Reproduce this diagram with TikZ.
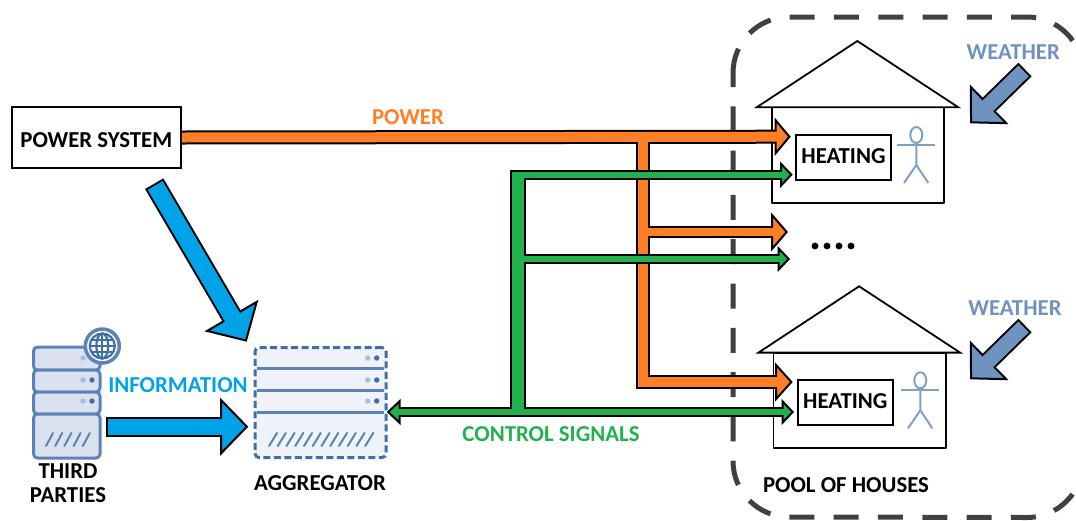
\documentclass[tikz,border=0pt]{standalone}
\usepackage{fontspec}
\setmainfont{Carlito}
\usetikzlibrary{arrows.meta}
\definecolor{powerCol}{HTML}{FF7F27}
\definecolor{ctrlCol}{HTML}{22B14C}
\definecolor{infoCol}{HTML}{00A2E8}
\definecolor{weatherCol}{HTML}{6F93C1}
\definecolor{personCol}{HTML}{7F9FCB}
\definecolor{poolCol}{HTML}{404040}
\definecolor{rackLine}{HTML}{5B83B7}
\definecolor{rackDark}{HTML}{3F6FA8}
\definecolor{rackFill}{HTML}{DAE2EF}
\definecolor{rackPale}{HTML}{EFF2F8}
\definecolor{rackDot}{HTML}{A9BCD9}
\tikzset{
  label/.style={font=\fontsize{22.8}{26}\selectfont\bfseries,inner sep=0pt},
  blackbox/.style={draw=black,line width=2pt,fill=white,inner sep=0pt,label},
  poolline/.style={draw=poolCol,line width=5pt,dash pattern=on 25pt off 19.3pt},
  rackbox/.style={draw=rackLine,fill=rackFill,line width=3pt,rounded corners=4pt},
  slash/.style={line width=2pt,line cap=round}
}
\begin{document}
\begin{tikzpicture}[x=1pt,y=-1pt]
  \clip (0,0) rectangle (1076,520);
  % pool of houses
  \draw[poolline] (733,73) arc[start angle=180,end angle=90,radius=56pt] -- (1027,17)
    arc[start angle=90,end angle=0,radius=56pt] -- (1083,300);
  \draw[poolline,dash phase=11pt] (733,73) -- (733,461) arc[start angle=180,end angle=270,radius=56pt] -- (1027,517.5)
    arc[start angle=270,end angle=360,radius=56pt] -- (1083,300);
  \node[label] (pool) at (846,485) {POOL OF HOUSES};
  % two houses
  \foreach \house/\dx/\dy/\pdx in {A/0/0/0,B/1.8/245.3/2.2} {
    \begin{scope}[shift={(\dx,\dy)}]
      \draw[line width=1.8pt,line join=round] (771.7,107.3) rectangle (944.3,202.7);
      \draw[line width=1.8pt,fill=white,line join=miter] (756.7,107.3) -- (857.3,41) -- (958.3,107.3) -- cycle;
      \node[blackbox,minimum width=95pt,minimum height=45pt] (heat\house) at (843.5,157.5) {\raisebox{1.8pt}[\height][\depth]{HEATING}};
    \end{scope}
    \begin{scope}[shift={(\dx+\pdx,\dy)},personCol,line width=2pt]
      \draw (916.3,135) ellipse[x radius=6pt,y radius=8pt];
      \draw (897.3,144.7) -- (935,144.7);
      \draw (916.3,143) -- (916.3,165) -- (904,183);
      \draw (916.3,165) -- (928.3,183);
    \end{scope}
  }
  \node[font=\fontsize{45}{45}\selectfont\bfseries,inner sep=0pt] (dots) at (833.7,246.5) {....};
  % source boxes
  \node[blackbox,minimum width=169.3pt,minimum height=61.6pt] (pwr) at (96.3,137.5) {\raisebox{-2.3pt}[\height][\depth]{POWER SYSTEM}};
  \node[label,text=powerCol] (powerlab) at (408,117) {POWER};
  \node[label,text=infoCol] (infolab) at (178,385) {INFORMATION};
  \node[label,text=ctrlCol] (ctrllab) at (551,434) {CONTROL SIGNALS};
  \node[label,text=weatherCol] (wxlabA) at (1013.3,51.7) {WEATHER};
  \node[label,text=weatherCol] (wxlabB) at (1015,307.7) {WEATHER};
  % third parties rack
  \foreach \top/\bot in {347/370,370/392,392/414,414/458} {
    \draw[rackbox] (33.5,\top) rectangle (100,\bot);
  }
  \foreach \row in {358,380,401} {
    \fill[rackDot] (83,\row) circle[radius=2.7pt];
    \fill[rackDark] (92,\row) circle[radius=2.7pt];
  }
  \foreach \i in {0,...,4} {
    \draw[slash,rackLine] ({46+\i*9.2},446) -- ({53+\i*9.2},433);
  }
  \node[label,align=center] (third) at (68,483.5) {THIRD\\[-2pt]PARTIES};
  % globe
  \draw[rackLine,fill=white,line width=3.5pt] (102.3,346) circle[radius=17pt];
  \begin{scope}[rackDark,line width=2.2pt]
    \draw (102.3,346) circle[radius=12.5pt];
    \draw (102.3,346) ellipse[x radius=6pt,y radius=12.5pt];
    \draw (102.3,333.5) -- (102.3,358.5);
    \draw (90,346) -- (114.6,346);
    \draw (92,340) -- (112.6,340);
    \draw (92,352) -- (112.6,352);
  \end{scope}
  % aggregator rack
  \node[draw=rackDark,fill=rackPale,line width=3pt,dash pattern=on 7pt off 3.5pt,rounded corners=4pt,minimum width=131pt,minimum height=110pt,inner sep=0pt] (agg) at (320.5,402.5) {};
  \foreach \row in {368.7,390.7,412} {
    \draw[rackLine,line width=3pt] (257,\row) -- (384,\row);
  }
  \foreach \row in {358,380,401} {
    \fill[rackDot] (367.7,\row) circle[radius=2.7pt];
    \fill[rackDark] (376.7,\row) circle[radius=2.7pt];
  }
  \foreach \i in {0,...,11} {
    \draw[slash,rackLine] ({269+\i*8.75},446) -- ({277+\i*8.75},433);
  }
  \node[label] (agglab) at (320,483) {AGGREGATOR};
  % end points of the links
  \coordinate (inA) at (790.7,136.7);
  \coordinate (inB) at (788,232);
  \coordinate (inC) at (792.7,382);
  \coordinate (inD) at (792.7,174.7);
  \coordinate (inE) at (790,259);
  \coordinate (inF) at (794,412);
  \coordinate (pwrTop) at (643,136.7);
  \coordinate (pwrMid) at (643,232);
  \coordinate (pwrLow) at (643,382);
  \coordinate (ctrlTop) at (518,169.7);
  \coordinate (ctrlLeft) at (510,174.7);
  \coordinate (ctrlInner) at (512,174.7);
  \coordinate (ctrlMid) at (518,259);
  \coordinate (ctrlLow) at (518,412);
  \coordinate (aggIn) at (386.7,412);
  \coordinate (bigTail) at (154.2,183.7);
  \coordinate (bigTip) at (246.7,341.7);
  \coordinate (infoTail) at (106,426.7);
  \coordinate (infoTip) at (248.3,426.7);
  \coordinate (wxTailA) at (1025,69.5);
  \coordinate (wxTipA) at (970,123.3);
  \coordinate (wxTailB) at (1025,325.5);
  \coordinate (wxTipB) at (970,379.3);
  % power links
  \foreach \from/\to/\wd/\hlen/\hwd in {pwr.east/inA/14/16/38,pwrMid/inB/12.6/17/39,pwrLow/inC/14/17.7/39} {
    \draw[line width=\wd pt,-{Triangle[length=\hlen pt,width=\hwd pt,line width=2pt,color=black,fill=powerCol]}] (\from) -- (\to);
  }
  \draw[line width=14pt] (pwrTop) -- (643,389);
  \foreach \from/\to/\wd/\hlen in {pwr.east/inA/14/16,pwrMid/inB/12.6/17,pwrLow/inC/14/17.7} {
    \draw[powerCol,line width=\wd pt-4pt,shorten >=\hlen pt-3pt] (\from) -- (\to);
  }
  \draw[powerCol,line width=10pt] (pwrTop) -- (643,387);
  % control links
  \foreach \from/\to/\hlen in {ctrlLeft/inD/12.5,ctrlMid/inE/12.5,ctrlLow/inF/12.5,ctrlLow/aggIn/14} {
    \draw[line width=10pt,-{Triangle[length=\hlen pt,width=26pt,line width=2pt,color=black,fill=ctrlCol]}] (\from) -- (\to);
  }
  \draw[line width=16pt] (ctrlTop) -- (ctrlLow);
  \foreach \from/\to/\hlen in {ctrlInner/inD/12.5,ctrlMid/inE/12.5,ctrlLow/inF/12.5,ctrlLow/aggIn/14} {
    \draw[ctrlCol,line width=6pt,shorten >=\hlen pt-3pt] (\from) -- (\to);
  }
  \draw[ctrlCol,line width=12pt,shorten <=2pt] (ctrlTop) -- (ctrlLow);
  % big arrows
  \foreach \from/\to/\wd/\hlen/\hwd/\col in {bigTail/bigTip/21.2/30.3/62/infoCol,infoTail/infoTip/20/28.3/58/infoCol,wxTailA/wxTipA/19/27/55/weatherCol,wxTailB/wxTipB/19/27/55/weatherCol} {
    \draw[line width=\wd pt,-{Triangle[length=\hlen pt,width=\hwd pt,line width=2pt,color=black,fill=\col]}] (\from) -- (\to);
    \draw[\col,line width=\wd pt-4pt,shorten >=\hlen pt-3pt,shorten <=2pt] (\from) -- (\to);
  }
\end{tikzpicture}
\end{document}
